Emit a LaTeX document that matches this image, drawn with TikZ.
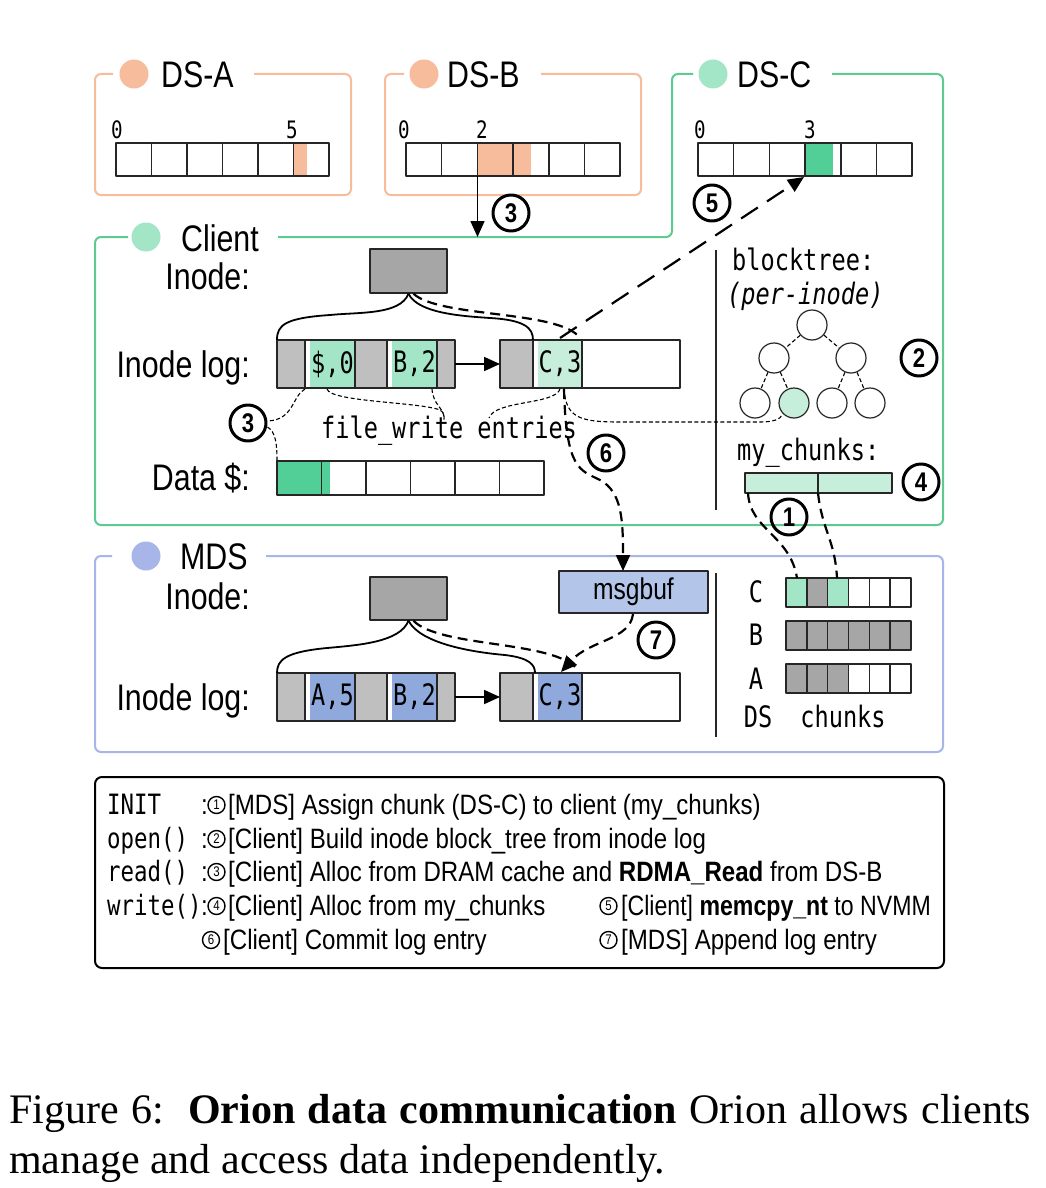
\documentclass[tikz,border=0pt]{standalone}
\usepackage{fontspec}
\setmainfont{Liberation Sans}[FakeStretch=0.82]
\newfontfamily\legf{Liberation Sans}[FakeStretch=0.86]
\newfontfamily\monof{DejaVu Sans Mono}[FakeStretch=0.8]
\newfontfamily\capf{Liberation Serif}
\usetikzlibrary{arrows.meta}
\definecolor{cSalmon}{HTML}{F7BC9C}
\definecolor{cGreen}{HTML}{5CCB8F}
\definecolor{cGreenDot}{HTML}{A3E6C7}
\definecolor{cDSGreen}{HTML}{52CF96}
\definecolor{cEnt}{HTML}{A3E6C7}
\definecolor{cLight}{HTML}{C6EEDB}
\definecolor{cLogGray}{HTML}{BFBFBF}
\definecolor{cInode}{HTML}{A6A6A6}
\definecolor{cBlue}{HTML}{A8B5E8}
\definecolor{cBlueEnt}{HTML}{8FA9DC}
\definecolor{cMsg}{HTML}{B4C5EA}
\definecolor{cDark}{HTML}{262626}
\newcommand\fTitle{\fontsize{37}{40}\selectfont}
\newcommand\fMono{\monof\fontsize{29.5}{32}\selectfont}
\newcommand\fMonoS{\monof\fontsize{24}{26}\selectfont}
\newcommand\fLeg{\legf\fontsize{28}{34}\selectfont}
\newcommand\fLegM{\monof\fontsize{28}{34}\selectfont}
\newcommand\fMsg{\fontsize{30}{34}\selectfont}
\begin{document}
\begin{tikzpicture}[x=1pt,y=-1pt,line join=round,
  grp/.style={line width=2pt,rounded corners=6pt},
  cell/.style={draw=cDark,line width=1.5pt},
  dot/.style={circle,minimum size=29pt,inner sep=0pt},
  ttl/.style={font=\fTitle,inner sep=0pt},
  numl/.style={font=\fMonoS,inner sep=0pt,anchor=base},
  cnum/.style={circle,draw=black,line width=3pt,minimum size=36pt,inner sep=0pt,font=\fontsize{27}{27}\selectfont\bfseries},
  tnode/.style={circle,draw=cDark,line width=1.2pt,minimum size=30pt,inner sep=0pt,fill=white},
  entry/.style={font=\fMono,inner sep=0pt},
  arr/.style={-{Triangle[length=16pt,width=14pt]}},
  dA/.style={line width=2.2pt,dash pattern=on 20pt off 11pt},
  dB/.style={line width=2.2pt,dash pattern=on 10pt off 6pt},
  dC/.style={line width=1.1pt,dash pattern=on 4pt off 2.5pt},
  brace/.style={line width=1.8pt},
  lg/.style={anchor=base west,inner sep=0pt,font=\fLeg},
  lgm/.style={anchor=base west,inner sep=0pt,font=\fLegM},
  lgc/.style={circle,draw=black,line width=1.4pt,minimum size=17pt,inner sep=0pt,font=\fontsize{14}{14}\selectfont}]
\useasboundingbox (0,0) rectangle (1046,1188);
\fill[white] (0,0) rectangle (1046,1188);

% ---------- DS-A ----------
\draw[grp,draw=cSalmon] (254,74) -- (351,74) -- (351,195) -- (95,195) -- (95,74) -- (113,74);
\node[dot,fill=cSalmon] (dsadot) at (134,74) {};
\node[ttl,anchor=west] (dsat) at (161,75) {DS-A};
\fill[cSalmon] (294,143) rectangle (307,176);
\foreach \i in {0,...,5} {\draw[cell] ({116+35.5*\i},143) rectangle ++(35.5,33);}
\node[numl] (dsa0) at (117,139) {0};
\node[numl] (dsa5) at (292,139) {5};

% ---------- DS-B ----------
\draw[grp,draw=cSalmon] (541,74) -- (641,74) -- (641,195) -- (385,195) -- (385,74) -- (404,74);
\node[dot,fill=cSalmon] (dsbdot) at (424,74) {};
\node[ttl,anchor=west] (dsbt) at (447,75) {DS-B};
\fill[cSalmon] (477.5,143) rectangle (531,176);
\foreach \i in {0,...,5} {\draw[cell] ({406+35.7*\i},143) rectangle ++(35.7,33);}
\node[numl] (dsb0) at (404,139) {0};
\node[numl] (dsb2) at (482,139) {2};
\coordinate (dsbsrc) at (477.5,176);

% ---------- DS-C + Client outline ----------
\draw[grp,draw=cGreen] (278,237) -- (672,237) -- (672,74) -- (693,74)
   (832,74) -- (943,74) -- (943,525) -- (95,525) -- (95,237) -- (128,237);
\node[dot,fill=cGreenDot] (dscdot) at (713,74) {};
\node[ttl,anchor=west] (dsct) at (737,75) {DS-C};
\fill[cDSGreen] (806,143) rectangle (833,176);
\foreach \i in {0,...,5} {\draw[cell] ({698+35.7*\i},143) rectangle ++(35.7,33);}
\node[numl] (dsc0) at (700,139) {0};
\node[numl] (dsc3) at (810,139) {3};
\coordinate (dsctgt) at (804,177);

\node[dot,fill=cGreenDot] (cldot) at (146,237) {};
\node[ttl,anchor=west] (clt) at (181,238) {Client};
\coordinate (cltop) at (477.5,237);

% DS-B -> client (3)
\draw[line width=1.6pt,arr] (dsbsrc) -- (cltop);
\node[cnum] (n3a) at (511,213) {3};

% ---------- Client internals ----------
\node[ttl,anchor=base east] (clinl) at (250,289) {Inode:};
\node[ttl,anchor=base east] (cllogl) at (250,377) {Inode log:};
\node[ttl,anchor=base east] (cldatal) at (250,490) {Data \$:};

\node[draw=cDark,fill=cInode,line width=1.5pt,minimum width=77pt,minimum height=44pt,inner sep=0pt] (cinode) at (408.5,271) {};

% log block 1
\fill[cLogGray] (277,340) rectangle (455,388);
\fill[white] (305,340) rectangle (310,388);
\fill[cEnt] (310,340) rectangle (355,388);
\fill[white] (387,340) rectangle (392,388);
\fill[cEnt] (392,340) rectangle (437,388);
\draw[cell] (277,340) rectangle (455,388);
\draw[cell] (305,340) -- (305,388) (355,340) -- (355,388) (387,340) -- (387,388) (437,340) -- (437,388);
\node[entry] (e1) at (332.5,364) {\$,0};
\node[entry] (e2) at (414.5,364) {B,2};
% log block 2
\fill[cLogGray] (500,340) rectangle (533,388);
\fill[cLight] (538,340) rectangle (582,388);
\draw[cell] (500,340) rectangle (680,388);
\draw[cell] (533,340) -- (533,388) (582,340) -- (582,388);
\node[entry] (e3) at (560,364) {C,3};
\draw[line width=1.8pt,arr] (455,364) -- (500,364);

% braces
\draw[brace] (cinode.south) .. controls (400,315) and (360,312) .. (330,315) .. controls (285,318) and (277,325) .. (277,340);
\draw[brace] (cinode.south) .. controls (418,313) and (460,316) .. (490,318) .. controls (525,320) and (533,328) .. (533,340);
\draw[dB] ([xshift=5pt]cinode.south) .. controls (440,318) and (560,310) .. (580,338);

% (5) to DS-C
\draw[dA,arr] (560,338) -- (dsctgt);
\node[cnum] (n5) at (712,203) {5};

% data cache
\fill[cDSGreen] (277,461) rectangle (330,495);
\foreach \i in {0,...,5} {\draw[cell] ({277+44.5*\i},461) rectangle ++(44.5,34);}

% file_write entries
\node[entry,anchor=base west] (fwe) at (321,438) {file\_write entries};
\draw[dC] (327,389) .. controls (330,402) and (420,402) .. (440,410) .. controls (445,413) and (444,416) .. (444,420);
\draw[dC] (432,389) .. controls (433,405) and (444,408) .. (444,418);
\draw[dC] (560,389) .. controls (555,405) and (495,400) .. (489,418);

% (3) in client
\node[cnum] (n3b) at (248,423) {3};
\draw[dC] (305,389) .. controls (292,396) and (294,420) .. ([yshift=2pt]n3b.east);
\draw[dC] ([yshift=-4pt]n3b.east) .. controls (276,432) and (277,445) .. (277,461);

% separator
\draw[line width=1.5pt,draw=cDark] (716,250) -- (716,510);

% blocktree
\node[entry,anchor=base west] (btl) at (732,270) {blocktree:};
\node[entry,anchor=base west] (pil) at (727,304) {\itshape (per-inode)};
\node[tnode] (t0) at (812,325) {};
\node[tnode] (t1a) at (774,358) {};
\node[tnode] (t1b) at (851,358) {};
\node[tnode] (t2a) at (755,403) {};
\node[tnode,fill=cLight] (t2b) at (794,403) {};
\node[tnode] (t2c) at (832,403) {};
\node[tnode] (t2d) at (870,403) {};
\draw[dC] (t0) -- (t1a);
\draw[dC] (t0) -- (t1b);
\draw[dC] (t1a) -- (t2a);
\draw[dC] (t1a) -- (t2b);
\draw[dC] (t1b) -- (t2c);
\draw[dC] (t1b) -- (t2d);
\node[cnum] (n2) at (919,358) {2};
\draw[dC] (564,389) .. controls (566,418) and (580,422) .. (620,422) -- (760,422) .. controls (772,422) and (780,420) .. (t2b.225);

% my_chunks
\node[entry,anchor=base west] (mcl) at (737,460) {my\_chunks:};
\fill[cLight] (745,473) rectangle (892,493);
\draw[cell] (745,473) rectangle (892,493);
\draw[cell] (818,473) -- (818,493);
\node[cnum] (n4) at (921,482) {4};

% (6)
\node[cnum] (n6) at (606,453) {6};

% ---------- MDS ----------
\draw[grp,draw=cBlue] (266,556) -- (943,556) -- (943,752) -- (95,752) -- (95,556) -- (112,556);
\node[dot,fill=cBlue] (mdsdot) at (146,556) {};
\node[ttl,anchor=west] (mdst) at (180,557) {MDS};
\node[ttl,anchor=base east] (mdinl) at (250,609) {Inode:};
\node[ttl,anchor=base east] (mdlogl) at (250,710) {Inode log:};
\node[draw=cDark,fill=cInode,line width=1.5pt,minimum width=77pt,minimum height=43pt,inner sep=0pt] (minode) at (408.5,598.5) {};

\fill[cLogGray] (277,673) rectangle (455,721);
\fill[white] (305,673) rectangle (310,721);
\fill[cBlueEnt] (310,673) rectangle (355,721);
\fill[white] (387,673) rectangle (392,721);
\fill[cBlueEnt] (392,673) rectangle (437,721);
\draw[cell] (277,673) rectangle (455,721);
\draw[cell] (305,673) -- (305,721) (355,673) -- (355,721) (387,673) -- (387,721) (437,673) -- (437,721);
\node[entry] (m1) at (332.5,697) {A,5};
\node[entry] (m2) at (414.5,697) {B,2};
\fill[cLogGray] (500,673) rectangle (533,721);
\fill[cBlueEnt] (538,673) rectangle (582,721);
\draw[cell] (500,673) rectangle (680,721);
\draw[cell] (533,673) -- (533,721) (582,673) -- (582,721);
\node[entry] (m3) at (560,697) {C,3};
\draw[line width=1.8pt,arr] (455,697) -- (500,697);

\draw[brace] (minode.south) .. controls (400,642) and (360,645) .. (327,648) .. controls (285,652) and (277,660) .. (277,673);
\draw[brace] (minode.south) .. controls (420,643) and (470,652) .. (505,655) .. controls (530,658) and (535,665) .. (535,673);
\draw[dB] ([xshift=5pt]minode.south) .. controls (440,648) and (555,640) .. (578,670);

\node[draw=cDark,fill=cMsg,line width=1.5pt,minimum width=149pt,minimum height=42pt,inner sep=0pt,font=\fMsg] (msgbuf) at (633.5,592) {msgbuf};
\coordinate (msgin) at (623,571);
\draw[dB,arr] (564,389) .. controls (566,470) and (580,470) .. (600,480) .. controls (622,492) and (623,520) .. (msgin);
\draw[dB,arr] (633,614) .. controls (630,640) and (590,640) .. (561,672);
\node[cnum] (n7) at (656,640) {7};

\draw[line width=1.5pt,draw=cDark] (716,573) -- (716,737);

% chunks
\foreach \c [count=\i from 0] in {cEnt,cInode,cEnt,white,white,white} {\draw[cell,fill=\c] ({786+20.83*\i},578) rectangle ++(20.83,29);}
\foreach \c [count=\i from 0] in {cInode,cInode,cInode,cInode,cInode,cInode} {\draw[cell,fill=\c] ({786+20.83*\i},621) rectangle ++(20.83,29);}
\foreach \c [count=\i from 0] in {cInode,cInode,cInode,white,white,white} {\draw[cell,fill=\c] ({786+20.83*\i},664) rectangle ++(20.83,29);}
\node[entry,anchor=base] (lc) at (756,602) {C};
\node[entry,anchor=base] (lb) at (756,645) {B};
\node[entry,anchor=base] (la) at (756,689) {A};
\node[entry,anchor=base] (lds) at (758,727) {DS};
\node[entry,anchor=base] (lch) at (843,727) {chunks};

% (1)
\draw[dB] (748,493) .. controls (750,530) and (790,535) .. (797,578);
\draw[dB] (818,493) .. controls (822,530) and (835,540) .. (837,578);
\node[cnum] (n1) at (789,517) {1};

% ---------- Legend ----------
\draw[line width=2pt,draw=black,rounded corners=7pt] (95,777) rectangle (944,968);
\node[lgm] (k1) at (107,814) {INIT};
\node[lgm] (k2) at (107,848) {open()};
\node[lgm] (k3) at (107,881) {read()};
\node[lgm] (k4) at (107,915) {write()};
\foreach \yy in {814,848,881,915} {\node[lg] at (201,\yy) {:};}
\node[lgc] (c1) at (216.5,805) {1};
\node[lgc] (c2) at (216.5,839) {2};
\node[lgc] (c3) at (216.5,872) {3};
\node[lgc] (c4) at (216.5,906) {4};
\node[lgc] (c6) at (211,940) {6};
\node[lgc] (c5) at (608.5,906) {5};
\node[lgc] (c7) at (608.5,940) {7};
\node[lg] (d1) at (228,814) {[MDS] Assign chunk (DS-C) to client (my\_chunks)};
\node[lg] (d2) at (228,848) {[Client] Build inode block\_tree from inode log};
\node[lg] (d3) at (228,881) {[Client] Alloc from DRAM cache and \textbf{RDMA\_Read} from DS-B};
\node[lg] (d4) at (228,915) {[Client] Alloc from my\_chunks};
\node[lg] (d6) at (223,949) {[Client] Commit log entry};
\node[lg] (d5) at (621,915) {\scalebox{0.96}[1]{[Client] \textbf{memcpy\_nt} to NVMM}};
\node[lg] (d7) at (621,949) {[MDS] Append log entry};

% ---------- Caption ----------
\node[anchor=north west,inner sep=0pt,text width=1022pt,align=justify,font=\capf\fontsize{42}{50}\selectfont] (cap) at (9,1094)
 {Figure 6:\ \ \textbf{Orion data communication} Orion allows clients\linebreak manage and access data independently.};
\end{tikzpicture}
\end{document}
